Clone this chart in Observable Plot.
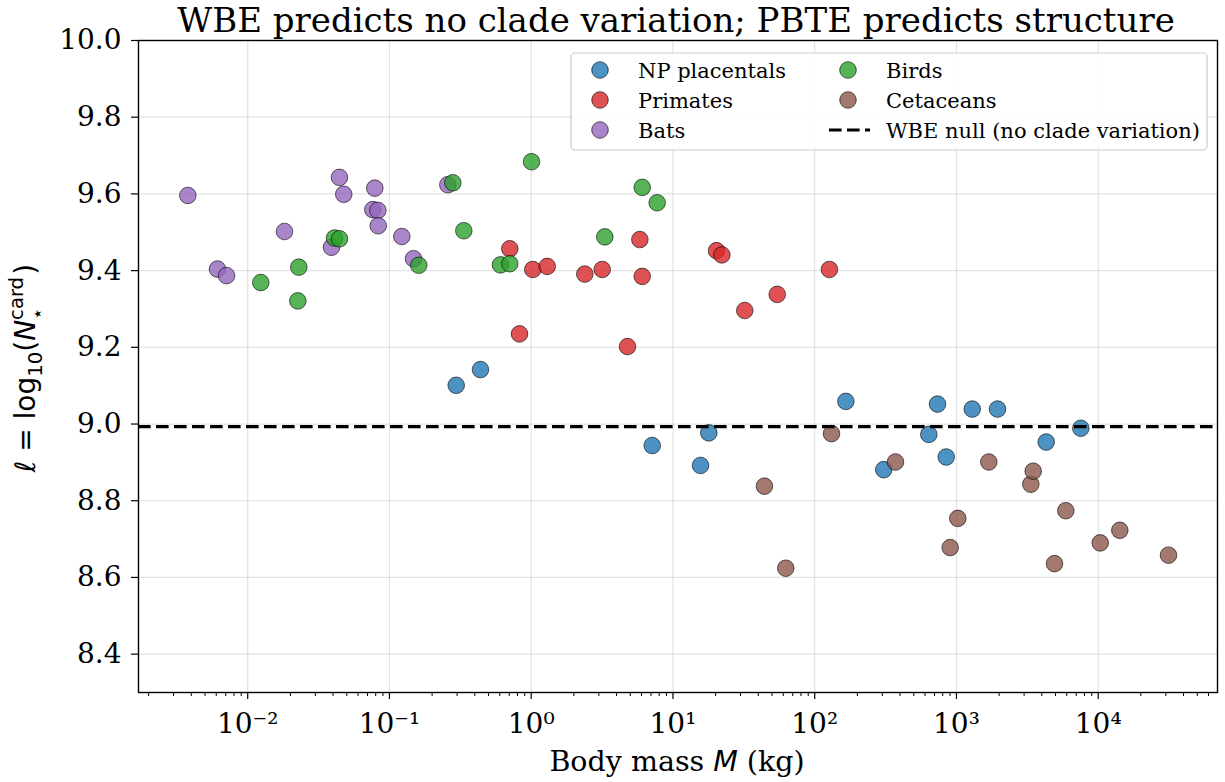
<!DOCTYPE html>
<html>
<head>
<meta charset="utf-8">
<script src="https://cdn.jsdelivr.net/npm/d3@7"></script>
<script src="https://cdn.jsdelivr.net/npm/@observablehq/plot@0.6"></script>
<style>
  html, body { margin: 0; padding: 0; background: #fff; }
  #chart svg { display: block; }
</style>
</head>
<body>
<div id="chart"></div>
<script>
// ---------------- data ----------------
const clades = ["NP placentals", "Primates", "Bats", "Birds", "Cetaceans"];
const cladeColors = ["#1f77b4", "#d62728", "#9467bd", "#2ca02c", "#8c564b"];

const npMass = [0.2957, 0.4387, 7.14, 15.65, 17.9, 165.8, 307, 638, 735, 847, 1292, 1948, 4297, 7539];
const npEll  = [9.101, 9.142, 8.944, 8.892, 8.977, 9.059, 8.881, 8.973, 9.052, 8.914, 9.039, 9.039, 8.953, 8.989];

const primateMass = [0.827, 0.706, 1.026, 1.297, 2.388, 3.17, 4.78, 5.84, 6.07, 20.29, 22.12, 32.1, 54.4, 127];
const primateEll  = [9.235, 9.457, 9.403, 9.411, 9.391, 9.403, 9.202, 9.481, 9.385, 9.452, 9.441, 9.296, 9.338, 9.403];

const batMass = [0.00378, 0.00612, 0.00709, 0.01818, 0.0390, 0.0444, 0.0476, 0.0763, 0.0788, 0.0828, 0.0833, 0.1222, 0.1478, 0.258];
const batEll  = [9.596, 9.404, 9.387, 9.502, 9.461, 9.643, 9.599, 9.559, 9.615, 9.557, 9.517, 9.489, 9.431, 9.624];

const birdMass = [0.01237, 0.02257, 0.02293, 0.04096, 0.0444, 0.161, 0.280, 0.3346, 0.607, 0.706, 1.005, 3.305, 6.07, 7.74];
const birdEll  = [9.369, 9.321, 9.409, 9.485, 9.483, 9.414, 9.629, 9.504, 9.415, 9.418, 9.684, 9.488, 9.617, 9.577];

const cetMass = [44.2, 62.5, 131.4, 371.5, 903, 1022, 1691, 3346, 3478, 4917, 5907, 10330, 14205, 31330];
const cetEll  = [8.838, 8.624, 8.975, 8.901, 8.678, 8.754, 8.901, 8.843, 8.877, 8.636, 8.774, 8.690, 8.723, 8.658];

const wbeNull = 8.993;

const yTicks = [8.4, 8.6, 8.8, 9.0, 9.2, 9.4, 9.6, 9.8, 10.0];
const xMajorTicks = [1e-2, 1e-1, 1e0, 1e1, 1e2, 1e3, 1e4];
const xTickLabels = ["10\u207B\u00B2", "10\u207B\u00B9", "10\u2070", "10\u00B9", "10\u00B2", "10\u00B3", "10\u2074"];
const xDomain = [Math.pow(10, -2.7704), Math.pow(10, 4.8416)];
const yDomain = [8.3, 10.0];

const titleText = "WBE predicts no clade variation; PBTE predicts structure";
const legendLabels = ["NP placentals", "Primates", "Bats", "Birds", "Cetaceans", "WBE null (no clade variation)"];

// ---------------- table ----------------
const seriesMass = [npMass, primateMass, batMass, birdMass, cetMass];
const seriesEll = [npEll, primateEll, batEll, birdEll, cetEll];
const rows = [];
clades.forEach((c, k) => {
  seriesMass[k].forEach((m, i) => rows.push({clade: c, mass: m, ell: seriesEll[k][i]}));
});
const minorTicks = d3.scaleLog().domain(xDomain).ticks().filter(t => !xMajorTicks.some(M => Math.abs(M - t) / M < 1e-9));

const serif = "DejaVu Serif";
const sans = "DejaVu Sans";
const tickFont = 28;

const plot = Plot.plot({
  width: 1225,
  height: 782,
  marginLeft: 138,
  marginRight: 8,
  marginTop: 40,
  marginBottom: 90,
  style: {fontFamily: serif, fontSize: tickFont + "px", background: "white", overflow: "visible", color: "black"},
  x: {type: "log", domain: xDomain},
  y: {domain: yDomain},
  color: {domain: clades, range: cladeColors},
  marks: [
    Plot.gridX(xMajorTicks, {stroke: "#b0b0b0", strokeOpacity: 0.35, strokeWidth: 1.2}),
    Plot.gridY(yTicks, {stroke: "#b0b0b0", strokeOpacity: 0.35, strokeWidth: 1.2}),
    Plot.axisX(minorTicks, {tickSize: 4, tickFormat: () => "", strokeWidth: 1, label: null}),
    Plot.axisX(xMajorTicks, {tickSize: 7, tickPadding: 14, strokeWidth: 1.2, fontSize: tickFont,
      tickFormat: d => xTickLabels[xMajorTicks.indexOf(d)], label: null}),
    Plot.axisY(yTicks, {tickSize: 7, tickPadding: 10, strokeWidth: 1.2, fontSize: tickFont,
      tickFormat: d => d.toFixed(1), label: null}),
    Plot.dot(rows, {x: "mass", y: "ell", r: 8.3, fill: "clade", fillOpacity: 0.8,
      stroke: "black", strokeOpacity: 0.75, strokeWidth: 0.8}),
    Plot.ruleY([wbeNull], {stroke: "black", strokeWidth: 3.2, strokeDasharray: "12.6,5.4"}),
    Plot.frame({stroke: "black", strokeWidth: 1.4})
  ]
});

document.getElementById("chart").appendChild(plot);

// ---------------- decorations ----------------
const svg = d3.select(plot);

// title
svg.append("text")
  .attr("x", 676).attr("y", 32)
  .attr("text-anchor", "middle")
  .attr("font-family", serif).attr("font-size", 34)
  .attr("fill", "black")
  .text(titleText);

// x label
const xl = svg.append("text")
  .attr("x", 677).attr("y", 771)
  .attr("text-anchor", "middle")
  .attr("font-family", serif).attr("font-size", 28.5).attr("fill", "black");
xl.append("tspan").text("Body mass ");
xl.append("tspan").attr("font-family", sans).attr("font-style", "italic").text("M");
xl.append("tspan").text(" (kg)");

// y label
const yl = svg.append("text")
  .attr("transform", "translate(35,368) rotate(-90)")
  .attr("text-anchor", "middle")
  .attr("font-family", sans).attr("font-size", 28).attr("fill", "black");
yl.append("tspan").attr("font-style", "italic").text("\u2113");
yl.append("tspan").text(" = log");
yl.append("tspan").attr("font-size", 19.6).attr("dy", 7).text("10");
yl.append("tspan").attr("dy", -7).text("(");
yl.append("tspan").attr("font-style", "italic").text("N");
yl.append("tspan").attr("font-size", 19.6).attr("dy", -12).text("card");
yl.append("tspan").attr("font-size", 19.6).attr("dx", -43).attr("dy", 21).text("\u22C6");
yl.append("tspan").attr("dx", 33).attr("dy", -9).text(")");

// legend
const lg = svg.append("g");
lg.append("rect")
  .attr("x", 571).attr("y", 53).attr("width", 636).attr("height", 97).attr("rx", 4)
  .attr("fill", "white").attr("fill-opacity", 0.85)
  .attr("stroke", "#cccccc").attr("stroke-width", 1.2);
const colX = [600, 848];
const textX = [638, 886];
const rowY = [70, 100, 130];
legendLabels.forEach((lab, i) => {
  const col = Math.floor(i / 3), row = i % 3;
  if (i < clades.length) {
    lg.append("circle")
      .attr("cx", colX[col]).attr("cy", rowY[row]).attr("r", 8.3)
      .attr("fill", cladeColors[i]).attr("fill-opacity", 0.8)
      .attr("stroke", "black").attr("stroke-opacity", 0.75).attr("stroke-width", 0.8);
  } else {
    lg.append("line")
      .attr("x1", 829).attr("x2", 870).attr("y1", rowY[row]).attr("y2", rowY[row])
      .attr("stroke", "black").attr("stroke-width", 3.2).attr("stroke-dasharray", "12.6,5.4");
  }
  lg.append("text")
    .attr("x", textX[col]).attr("y", rowY[row] + 7.5)
    .attr("text-anchor", "start")
    .attr("font-family", serif).attr("font-size", 21).attr("fill", "black")
    .text(lab);
});
</script>
</body>
</html>
